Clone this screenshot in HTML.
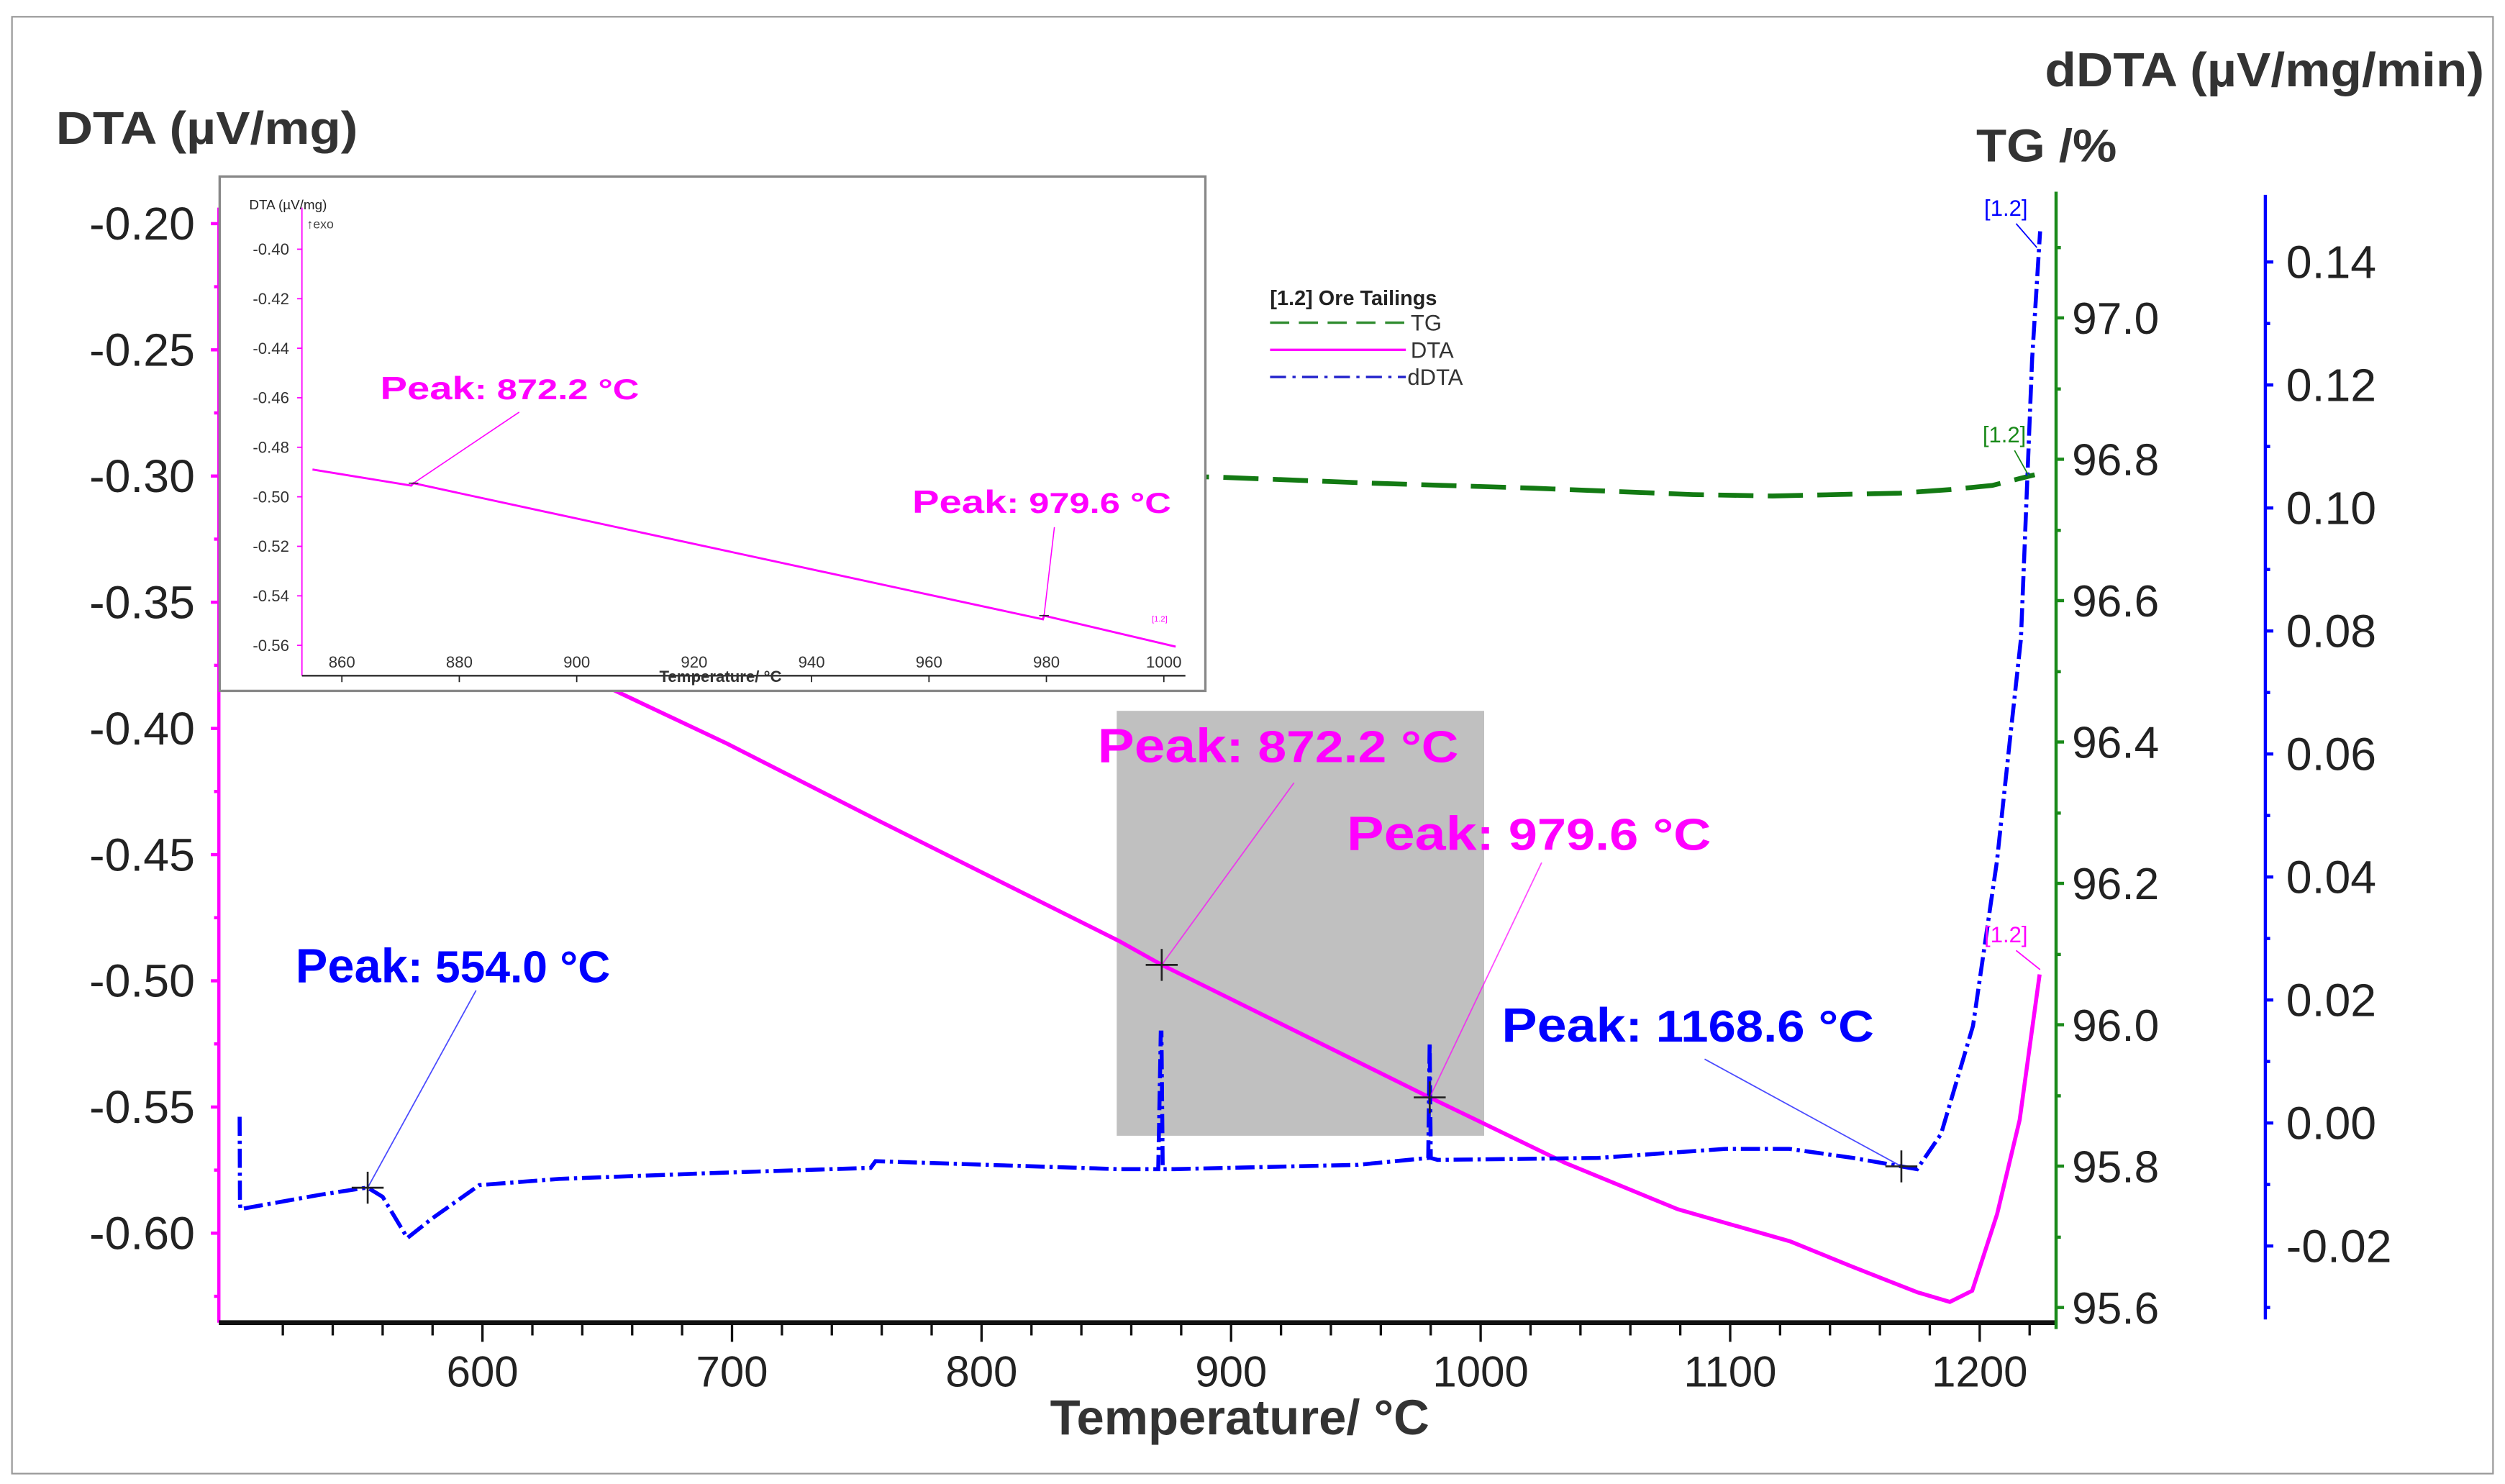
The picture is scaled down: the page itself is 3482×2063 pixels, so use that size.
<!DOCTYPE html>
<html><head><meta charset="utf-8"><style>
html,body{margin:0;padding:0;background:#fff;}
svg{display:block;font-family:"Liberation Sans",Arial,sans-serif;}
</style></head><body>
<svg id="chart" width="3482" height="2063" viewBox="0 0 1568 929" preserveAspectRatio="none" xmlns="http://www.w3.org/2000/svg">
<rect x="7.5" y="10.5" width="1553" height="912" fill="#fff" stroke="#999" stroke-width="1"/>
<rect x="699" y="445" width="230" height="266" fill="#c0c0c0"/>
<g id="plot"></g>
<text x="35" y="90" font-size="29" font-weight="bold" fill="#333" textLength="189" lengthAdjust="spacingAndGlyphs">DTA (µV/mg)</text>
<text x="1237" y="101" font-size="29" font-weight="bold" fill="#333" textLength="88" lengthAdjust="spacingAndGlyphs">TG /%</text>
<text x="1280" y="54" font-size="30" font-weight="bold" fill="#333" textLength="275" lengthAdjust="spacingAndGlyphs">dDTA (µV/mg/min)</text>
<text x="776" y="898" font-size="31" font-weight="bold" fill="#333" text-anchor="middle">Temperature/ °C</text>
<g>
<text x="795" y="191" font-size="13" font-weight="bold" fill="#222">[1.2] Ore Tailings</text>
<line x1="795" y1="202" x2="880" y2="202" stroke="#2e8b2e" stroke-width="1.5" stroke-dasharray="12,6"/>
<text x="883" y="207" font-size="14" fill="#333">TG</text>
<line x1="795" y1="219" x2="880" y2="219" stroke="#ff00ff" stroke-width="1.5"/>
<text x="883" y="224" font-size="14" fill="#333">DTA</text>
<line x1="795" y1="236" x2="880" y2="236" stroke="#2222cc" stroke-width="1.5" stroke-dasharray="10,4,2,4"/>
<text x="881" y="241" font-size="14" fill="#333">dDTA</text>
</g>
<g id="inset"></g>
</svg>
<script>
// ---- main chart data ----
const dtaTemps = [500,600,653,698,759,855,872.2,979.6,1034,1079,1124,1149,1175,1188,1197,1207,1216,1224];
const dtaValues = [-0.31,-0.36,-0.385,-0.406,-0.4367,-0.4842,-0.4937,-0.5462,-0.5722,-0.5905,-0.6032,-0.6133,-0.6234,-0.6272,-0.6228,-0.5924,-0.5551,-0.4975];
const tgTemps = [500,893,957,1021,1085,1117,1168,1188,1205,1222];
const tgValues = [96.79,96.775,96.766,96.759,96.75,96.748,96.752,96.757,96.763,96.778];
const ddtaTemps = [502.7,502.8,503,534.7,553.9,560,569.9,579.5,598.7,630.7,694.8,755.6,757.5,854.8,870.8,871.8,872.1,872.6,877.2,950.8,979,979.6,980,982.8,1046.9,1098.1,1123.7,1149.3,1174.9,1184.5,1197.3,1206.9,1212,1216.5,1221,1224.2];
const ddtaValues = [0.001,-0.013,-0.014,-0.0117,-0.0105,-0.012,-0.0187,-0.0156,-0.0101,-0.0091,-0.0081,-0.0073,-0.0062,-0.0075,-0.0075,0.0147,0.0147,-0.0075,-0.0075,-0.0068,-0.0057,0.0131,-0.0057,-0.006,-0.0057,-0.0042,-0.0042,-0.0057,-0.0075,-0.0018,0.0158,0.0426,0.0618,0.0787,0.1242,0.145];
const xTicks = [600,700,800,900,1000,1100,1200];
const dtaTicks = [-0.20,-0.25,-0.30,-0.35,-0.40,-0.45,-0.50,-0.55,-0.60];
const tgTicks = [97.0,96.8,96.6,96.4,96.2,96.0,95.8,95.6];
const ddtaTicks = [0.14,0.12,0.10,0.08,0.06,0.04,0.02,0.00,-0.02];
const peakTemps = [554.0,872.2,979.6,1168.6];
// ---- inset data ----
const insetTemps = [855,871.8,872.2,979.4,979.6,1002];
const insetValues = [-0.489,-0.4955,-0.4945,-0.5495,-0.548,-0.5605];
const insetXTicks = [860,880,900,920,940,960,980,1000];
const insetYTicks = [-0.40,-0.42,-0.44,-0.46,-0.48,-0.50,-0.52,-0.54,-0.56];

const NS='http://www.w3.org/2000/svg';
function mk(tag,attrs,parent,text){const e=document.createElementNS(NS,tag);for(const k in attrs)e.setAttribute(k,attrs[k]);if(text!==undefined)e.textContent=text;parent.appendChild(e);return e;}
const X=t=>302+(t-600)*1.562;
const Ydta=v=>140+(-0.20-v)*1580;
const Ytg=v=>199+(97.0-v)*442.5;
const Yd=v=>703-v*3850;
function interp(ts,vs,t){for(let i=0;i<ts.length-1;i++){if(t>=ts[i]&&t<=ts[i+1]){const f=(t-ts[i])/(ts[i+1]-ts[i]);return vs[i]+f*(vs[i+1]-vs[i]);}}return vs[vs.length-1];}
const plot=document.getElementById('plot');

let e;
e=mk('line',{x1:137,y1:130,x2:137,y2:828,stroke:'#ff00ff','stroke-width':2},plot);


e=mk('line',{x1:137,y1:828,x2:1287,y2:828,stroke:'#111','stroke-width':3},plot);


e=mk('line',{x1:1287,y1:120,x2:1287,y2:832,stroke:'#1a8a1a','stroke-width':2},plot);


e=mk('line',{x1:1418,y1:122,x2:1418,y2:826,stroke:'#0000ff','stroke-width':2},plot);



for(let t=520;t<=1220;t+=20){const big=(t%100===0);e=mk('line',{x1:X(t),y1:828,x2:X(t),y2:big?840:836,stroke:'#111','stroke-width':1.5},plot);

}
xTicks.forEach(t=>{e=mk('text',{x:X(t),y:868,'font-size':27,'text-anchor':'middle',fill:'#222'},plot,String(t));

});
dtaTicks.forEach(v=>{const y=Ydta(v);mk('line',{x1:132,y1:y,x2:137,y2:y,stroke:'#ff00ff','stroke-width':2},plot);
mk('line',{x1:134,y1:y+39.5,x2:137,y2:y+39.5,stroke:'#ff00ff','stroke-width':2},plot);
e=mk('text',{x:122,y:y+10,'font-size':29,'text-anchor':'end',fill:'#222'},plot,v.toFixed(2));

});
tgTicks.forEach(v=>{const y=Ytg(v);mk('line',{x1:1287,y1:y,x2:1292,y2:y,stroke:'#1a8a1a','stroke-width':2},plot);
mk('line',{x1:1287,y1:y-44,x2:1290,y2:y-44,stroke:'#1a8a1a','stroke-width':2},plot);
e=mk('text',{x:1297,y:y+10,'font-size':28,fill:'#222'},plot,v.toFixed(1));

});
ddtaTicks.forEach(v=>{const y=Yd(v);mk('line',{x1:1418,y1:y,x2:1423,y2:y,stroke:'#0000ff','stroke-width':2},plot);
mk('line',{x1:1418,y1:y+38.5,x2:1421,y2:y+38.5,stroke:'#0000ff','stroke-width':2},plot);
e=mk('text',{x:1431,y:y+10,'font-size':29,fill:'#222'},plot,v.toFixed(2));

});

const ptsDta=dtaTemps.map((t,i)=>X(t).toFixed(1)+','+Ydta(dtaValues[i]).toFixed(1)).join(' ');
e=mk('polyline',{points:ptsDta,fill:'none',stroke:'#ff00ff','stroke-width':2.5},plot);


const ptsTg=tgTemps.map((t,i)=>X(t).toFixed(1)+','+Ytg(tgValues[i]).toFixed(1)).join(' ');
e=mk('polyline',{points:ptsTg,fill:'none',stroke:'#137a13','stroke-width':3,'stroke-dasharray':'22,9'},plot);


const ptsD=ddtaTemps.map((t,i)=>X(t).toFixed(1)+','+Yd(ddtaValues[i]).toFixed(1)).join(' ');
e=mk('polyline',{points:ptsD,fill:'none',stroke:'#0000ff','stroke-width':2.5,'stroke-dasharray':'12,3,2,3'},plot);



const peakSeries=['d','dta','dta','d'];
const peakInfo=[
 {txt:'554.0 °C',col:'#0000ff',lx:185,ly:615,ax:298,ay:620,w:197},
 {txt:'872.2 °C',col:'#ff00ff',lx:687,ly:477,ax:810,ay:490,w:226},
 {txt:'979.6 °C',col:'#ff00ff',lx:843,ly:532,ax:965,ay:540,w:228},
 {txt:'1168.6 °C',col:'#0000ff',lx:940,ly:652,ax:1067,ay:663,w:233}];
peakTemps.forEach((t,i)=>{const px=X(t);const py=peakSeries[i]==='d'?Yd(interp(ddtaTemps,ddtaValues,t)):Ydta(interp(dtaTemps,dtaValues,t));
 const p=peakInfo[i];
 e=mk('line',{x1:p.ax,y1:p.ay,x2:px,y2:py,stroke:p.col,'stroke-width':0.8,opacity:0.7},plot);
 
 
 mk('line',{x1:px-10,y1:py,x2:px+10,y2:py,stroke:'#222','stroke-width':1.2},plot);
 mk('line',{x1:px,y1:py-10,x2:px,y2:py+10,stroke:'#222','stroke-width':1.2},plot);
 const tx=mk('text',{x:p.lx,y:p.ly,fill:p.col,'font-weight':'bold','font-size':30,textLength:p.w,lengthAdjust:'spacingAndGlyphs'},plot);
 
 
 mk('tspan',{},tx,'Peak');mk('tspan',{'font-size':28},tx,': '+p.txt);
});
[['#0000ff',1242,135,1275,155],['#1a8a1a',1241,277,1270,298],['#ff00ff',1242,590,1277,607]].forEach(a=>{
 e=mk('text',{x:a[1],y:a[2],'font-size':14,fill:a[0]},plot,'[1.2]');
 
 
 mk('line',{x1:a[1]+20,y1:a[2]+5,x2:a[3],y2:a[4],stroke:a[0],'stroke-width':0.8},plot);
});

const ins=document.getElementById('inset');
const IX=t=>214+(t-860)*3.675;
const IY=v=>156+(-0.40-v)*1550;
e=mk('rect',{x:137.5,y:110.5,width:617,height:322,fill:'#fff',stroke:'#888','stroke-width':1.5},ins);


mk('line',{x1:189,y1:130,x2:189,y2:423,stroke:'#ff00ff','stroke-width':0.8},ins);
mk('line',{x1:189,y1:423,x2:742,y2:423,stroke:'#222','stroke-width':1},ins);
e=mk('text',{x:156,y:131,'font-size':8.5,fill:'#222'},ins,'DTA (µV/mg)');


mk('text',{x:192,y:143,'font-size':8,fill:'#444'},ins,'↑exo');
insetYTicks.forEach(v=>{const y=IY(v);mk('line',{x1:186,y1:y,x2:189,y2:y,stroke:'#ff00ff','stroke-width':0.8},ins);
e=mk('text',{x:181,y:y+3.5,'font-size':10,'text-anchor':'end',fill:'#333'},ins,v.toFixed(2));

});
insetXTicks.forEach(t=>{const x=IX(t);mk('line',{x1:x,y1:423,x2:x,y2:427,stroke:'#222','stroke-width':0.8},ins);
e=mk('text',{x:x,y:418,'font-size':10,'text-anchor':'middle',fill:'#333'},ins,String(t));

});
e=mk('text',{x:451,y:427,'font-size':10,'font-weight':'bold','text-anchor':'middle',fill:'#333'},ins,'Temperature/ °C');


const ptsI=insetTemps.map((t,i)=>IX(t).toFixed(1)+','+IY(insetValues[i]).toFixed(1)).join(' ');
e=mk('polyline',{points:ptsI,fill:'none',stroke:'#ff00ff','stroke-width':1.3},ins);


[[872.2,238,250,325,258],[979.6,571,321,660,330]].forEach(a=>{
 const px=IX(a[0]),py=IY(interp(insetTemps,insetValues,a[0]));
 mk('line',{x1:a[3],y1:a[4],x2:px,y2:py,stroke:'#ff00ff','stroke-width':0.7},ins);
 mk('line',{x1:px-3,y1:py,x2:px+3,y2:py,stroke:'#222','stroke-width':0.7},ins);
 const tx=mk('text',{x:a[1],y:a[2],fill:'#ff00ff','font-weight':'bold','font-size':20,textLength:162,lengthAdjust:'spacingAndGlyphs'},ins);
 
 
 mk('tspan',{},tx,'Peak');mk('tspan',{'font-size':18},tx,': '+a[0].toFixed(1)+' °C');
});
mk('text',{x:721,y:389,'font-size':5,fill:'#ff00ff'},ins,'[1.2]');
</script>
</body></html>
